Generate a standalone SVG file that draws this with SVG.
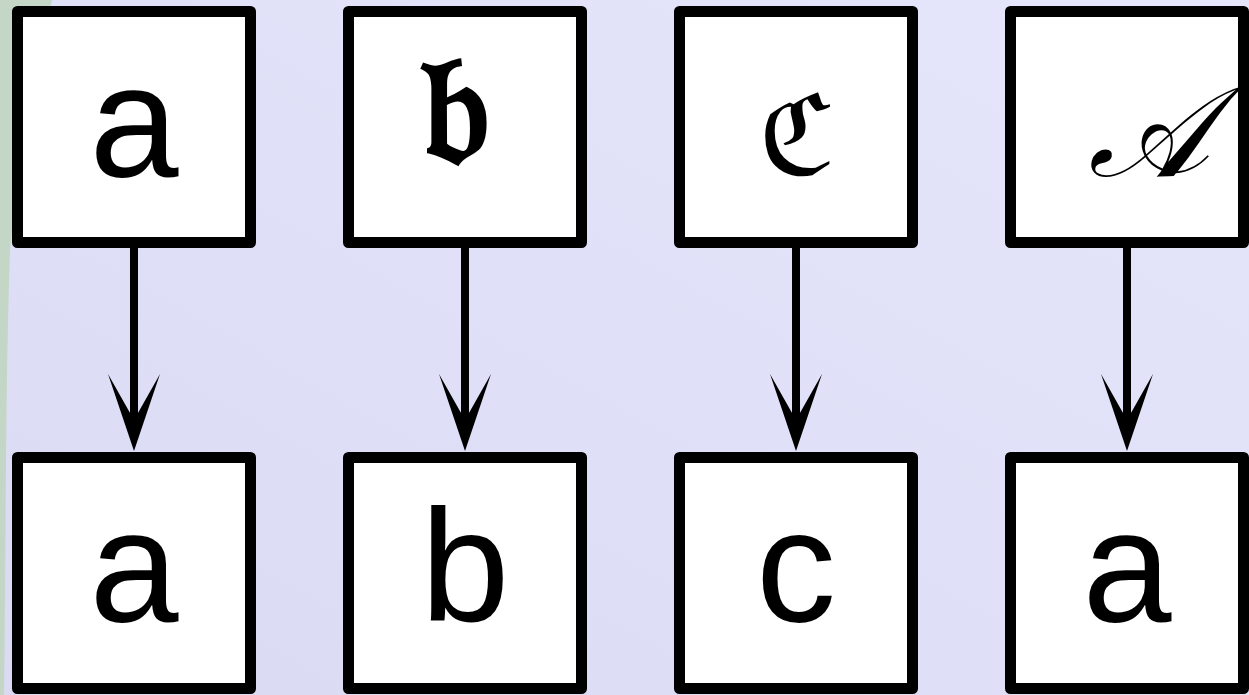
<svg xmlns="http://www.w3.org/2000/svg" width="1249" height="695" viewBox="0 0 1249 695">
  <style>
    .box { fill: #ffffff; stroke: #000000; stroke-width: 11; stroke-linejoin: round; }
    .plain { font-family: "Liberation Sans", Arial, sans-serif; font-size: 160px; text-anchor: middle; fill: #000000; }
    .fancy { font-family: "DejaVu Serif", "DejaVu Sans", "Noto Sans", serif; text-anchor: middle; fill: #000000; }
    .edge { stroke: #000000; stroke-width: 8; fill: none; }
  </style>
  <defs>
    <linearGradient id="bgGrad" x1="1" y1="0" x2="0" y2="1">
      <stop offset="0" stop-color="#e5e5fb"/>
      <stop offset="0.5" stop-color="#e0e0f8"/>
      <stop offset="1" stop-color="#dadaf3"/>
    </linearGradient>
    <marker id="arrow" markerUnits="userSpaceOnUse" orient="auto" refX="-26" refY="0" markerWidth="1" markerHeight="1" overflow="visible">
      <path d="M0,0 L-77,-26 L-31,0 L-77,26 Z" fill="#000000"/>
    </marker>
  </defs>

  <!-- backdrop -->
  <rect x="0" y="0" width="1249" height="695" fill="url(#bgGrad)"/>
  <path d="M0,0 H52 C38,70 18,170 10,250 C5,400 6,560 4,695 H0 Z" fill="#c4d6c6"/>

  <!-- connectors -->
  <g id="connectors">
    <line class="edge" x1="134" y1="248" x2="134" y2="425" marker-end="url(#arrow)"/>
    <line class="edge" x1="465" y1="248" x2="465" y2="425" marker-end="url(#arrow)"/>
    <line class="edge" x1="796" y1="248" x2="796" y2="425" marker-end="url(#arrow)"/>
    <line class="edge" x1="1127" y1="248" x2="1127" y2="425" marker-end="url(#arrow)"/>
  </g>

  <!-- top row -->
  <g id="top-a">
    <rect class="box" x="17.5" y="11.5" width="233" height="231"/>
    <text class="plain" x="134" y="176">a</text>
  </g>
  <g id="top-b">
    <rect class="box" x="348.5" y="11.5" width="233" height="231"/>
    <text class="fancy" x="455" y="162" font-size="155" font-weight="bold">𝔟</text>
  </g>
  <g id="top-c">
    <rect class="box" x="679.5" y="11.5" width="233" height="231"/>
    <text class="fancy" x="797" y="174" font-size="110">ℭ</text>
  </g>
  <g id="top-A">
    <rect class="box" x="1010.5" y="11.5" width="233" height="231"/>
    <text class="fancy" x="1148" y="176" font-size="128" font-style="italic">𝒜</text>
  </g>

  <!-- bottom row -->
  <g id="bottom-a">
    <rect class="box" x="17.5" y="457.5" width="233" height="231"/>
    <text class="plain" x="134" y="621">a</text>
  </g>
  <g id="bottom-b">
    <rect class="box" x="348.5" y="457.5" width="233" height="231"/>
    <text class="plain" x="465" y="621">b</text>
  </g>
  <g id="bottom-c">
    <rect class="box" x="679.5" y="457.5" width="233" height="231"/>
    <text class="plain" x="796" y="621">c</text>
  </g>
  <g id="bottom-A">
    <rect class="box" x="1010.5" y="457.5" width="233" height="231"/>
    <text class="plain" x="1127" y="621">a</text>
  </g>
</svg>
